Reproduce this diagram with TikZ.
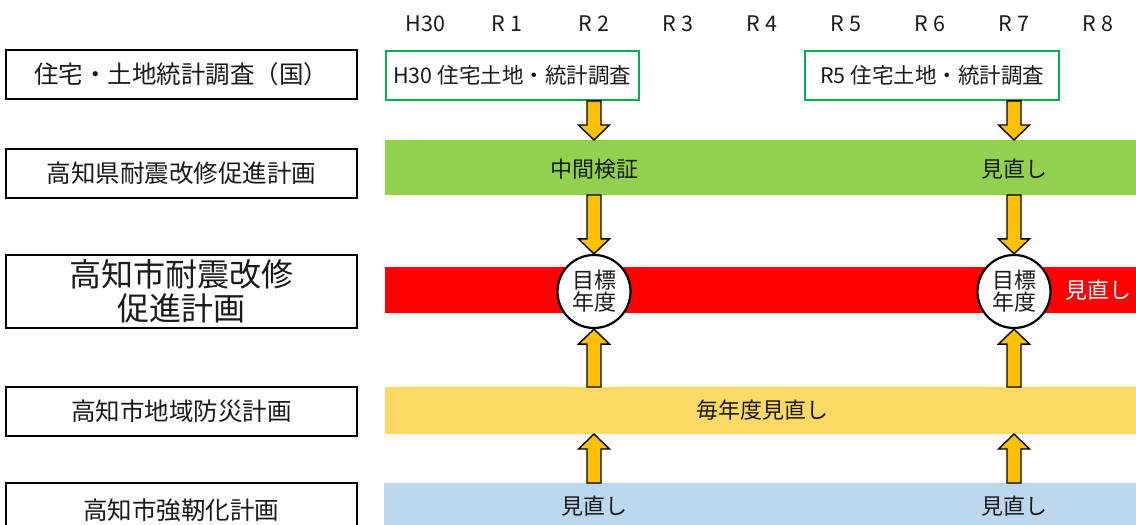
\documentclass[tikz,border=0pt]{standalone}
\usepackage{fontspec}
\setmainfont{Noto Sans CJK JP}
\usetikzlibrary{calc}
\definecolor{gbord}{HTML}{00B050}
\definecolor{gfill}{HTML}{92D050}
\definecolor{yfill}{HTML}{FFD966}
\definecolor{bfill}{HTML}{BDD7EE}
\definecolor{afill}{HTML}{FFC000}
\definecolor{tgray}{HTML}{1A1A1A}
\tikzset{
  yearlbl/.style={font=\fontsize{21.5}{23}\selectfont, text=tgray, inner sep=0},
  lbox/.style={draw=black, line width=1.8pt, fill=white, minimum width=351, minimum height=49, anchor=north west, inner sep=0, text=tgray, font=\fontsize{24.5}{26}\selectfont},
  gbox/.style={draw=gbord, line width=2.4pt, fill=white, minimum width=253, minimum height=49, anchor=north west, inner sep=0, text=tgray, font=\fontsize{21.5}{23}\selectfont},
  band/.style={inner sep=0, outer sep=0, anchor=north west, minimum width=752},
  bandtxt/.style={inner sep=0, text=tgray, font=\fontsize{22}{24}\selectfont},
  target/.style={circle, draw=black, line width=2.2pt, fill=white, minimum size=73, inner sep=0, align=center, text=tgray, font=\fontsize{22}{22}\selectfont},
  blkarrow/.style={draw=black, line width=1.4pt, fill=afill, line join=miter}
}
\newcommand\blkarr[2]{%
  \path[blkarrow] let \p1=(#1), \p2=(#2), \n1={sign(\y1-\y2)*15pt} in
   ({\x1-7pt},\y1) -- ({\x1-7pt},{\y2+\n1}) -- ({\x1-15.5pt},{\y2+\n1}) -- (\x1,\y2)
   -- ({\x1+15.5pt},{\y2+\n1}) -- ({\x1+7pt},{\y2+\n1}) -- ({\x1+7pt},\y1) -- cycle;}
\begin{document}
\begin{tikzpicture}[x=1pt,y=-1pt]
\useasboundingbox (0,0) rectangle (1136,525);
% years
\node[yearlbl] (H30) at (425.5,23.5) {H30};
\node[yearlbl] (R1) at (507,23.5) {R 1};
\node[yearlbl] (R2) at (594,23.5) {R 2};
\node[yearlbl] (R3) at (678,23.5) {R 3};
\node[yearlbl] (R4) at (762,23.5) {R 4};
\node[yearlbl] (R5) at (846,23.5) {R 5};
\node[yearlbl] (R6) at (930,23.5) {R 6};
\node[yearlbl] (R7) at (1014,23.5) {R 7};
\node[yearlbl] (R8) at (1098,23.5) {R 8};
% left labels
\node[lbox] (L1) at (5,49) {住宅・土地統計調査（国）};
\node[lbox] (L2) at (5,148) {高知県耐震改修促進計画};
\node[lbox, minimum height=73, align=center, font=\fontsize{32}{34}\selectfont] (L3) at (5,254) {高知市耐震改修\\促進計画};
\node[lbox] (L4) at (5,386) {高知市地域防災計画};
\node[lbox, minimum height=55] (L5) at (5,482) {高知市強靭化計画};
% survey boxes
\node[gbox] (S1) at (384.5,49.5) {H30 住宅土地・統計調査};
\node[gbox, minimum width=254] (S2) at (804,49.5) {R5 住宅土地・統計調査};
% bands
\node[band, fill=gfill, minimum height=55] (gband) at (385,140) {};
\node[band, fill=red, minimum height=46] (rband) at (385,267) {};
\node[band, fill=yfill, minimum height=47] (yband) at (385,387) {};
\node[band, fill=bfill, minimum height=45] (bband) at (384,483) {};
% band texts
\node[bandtxt] (g1) at ($(R2 |- gband)+(0,2)$) {中間検証};
\node[bandtxt] (g2) at ($(R7 |- gband)+(0,2)$) {見直し};
\node[bandtxt, text=white] (r1) at (R8 |- rband) {見直し};
\node[bandtxt] (y1) at (R4 |- yband) {毎年度見直し};
\node[bandtxt] (b1) at (594,506) {見直し};
\node[bandtxt] (b2) at (1014,506) {見直し};
% targets
\node[target] (c1) at ($(R2 |- rband)+(0,1.5)$) {目標\\年度};
\node[target] (c2) at ($(R7 |- rband)+(0,1.5)$) {目標\\年度};
% arrows
\blkarr{R2 |- S1.south}{R2 |- gband.north}
\blkarr{R7 |- S2.south}{R7 |- gband.north}
\blkarr{R2 |- gband.south}{c1.north}
\blkarr{R7 |- gband.south}{c2.north}
\blkarr{R2 |- yband.north}{c1.south}
\blkarr{R7 |- yband.north}{c2.south}
\blkarr{R2 |- bband.north}{R2 |- yband.south}
\blkarr{R7 |- bband.north}{R7 |- yband.south}
\end{tikzpicture}
\end{document}
